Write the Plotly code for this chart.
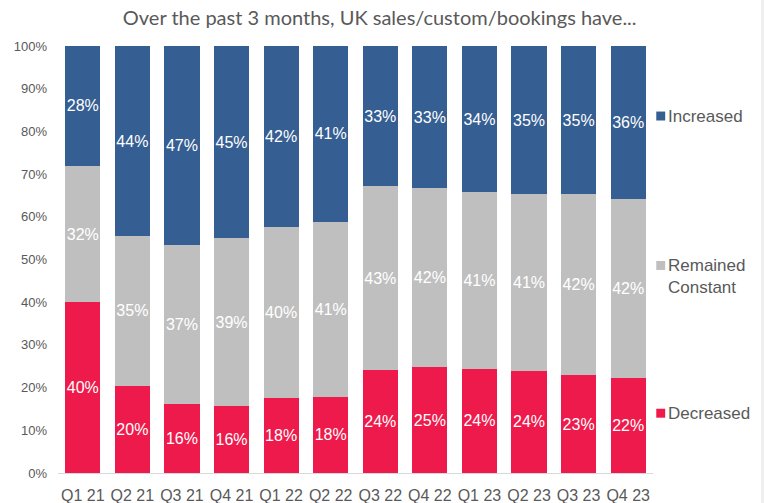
import plotly.graph_objects as go

quarters = ["Q1 21", "Q2 21", "Q3 21", "Q4 21", "Q1 22", "Q2 22",
            "Q3 22", "Q4 22", "Q1 23", "Q2 23", "Q3 23", "Q4 23"]
decreased = [40.0, 20.4, 16.2, 15.7, 17.6, 17.8, 24.1, 24.8, 24.4, 24.0, 22.9, 22.2]
constant = [31.9, 35.1, 37.2, 39.3, 40.0, 41.0, 43.1, 41.9, 41.4, 41.3, 42.4, 42.0]
increased = [28.1, 44.5, 46.6, 45.0, 42.4, 41.2, 32.8, 33.3, 34.2, 34.7, 34.7, 35.8]

series = [
    ("Decreased", decreased, "#EE1A4B"),
    ("Remained Constant", constant, "#BFBFBF"),
    ("Increased", increased, "#355E92"),
]

fig = go.Figure()
for name, vals, col in series:
    fig.add_trace(go.Bar(
        x=quarters, y=vals, name=name, marker=dict(color=col, line=dict(width=0)),
        text=[f"{round(v):d}%" for v in vals], textposition="inside",
        insidetextanchor="middle", textangle=0,
        textfont=dict(color="white", size=16, family="Liberation Sans, Arial"),
        showlegend=False,
    ))

# legend: (label, colour, y of marker/first line, y of text block centre)
legend_items = [("Increased", "#355E92", 83.6, 83.6),
                ("Remained<br>Constant", "#BFBFBF", 48.6, 46.0),
                ("Decreased", "#EE1A4B", 14.0, 14.0)]
for label, col, ym, yt in legend_items:
    fig.add_shape(
        type="rect", xref="paper", yref="y",
        x0=1.0055, x1=1.0205, y0=ym - 1.05, y1=ym + 1.05,
        fillcolor=col, line=dict(width=0),
    )
    fig.add_annotation(
        x=1.022, xref="paper", y=yt, yref="y", xanchor="left", yanchor="middle",
        text=label, showarrow=False, align="left",
        font=dict(size=17, color="#595959", family="Liberation Sans, Arial"),
    )

# faint border strip at the right edge of the image
fig.add_shape(type="rect", xref="paper", yref="paper",
              x0=1.1815, x1=1.19, y0=-0.08, y1=1.12,
              fillcolor="#EFEFEF", line=dict(width=0), layer="below")

fig.update_layout(
    barmode="stack",
    bargap=0.29,
    width=764, height=503,
    margin=dict(l=58, r=111, t=46, b=30),
    paper_bgcolor="white", plot_bgcolor="white",
    title=dict(text="Over the past 3 months, UK sales/custom/bookings have...",
               x=0.497, xanchor="center", y=0.964, yanchor="middle",
               font=dict(size=20, color="#595959", family="Lato, Open Sans, sans-serif")),
    uniformtext=dict(minsize=16, mode="show"),
    xaxis=dict(showline=True, linecolor="#D9D9D9", linewidth=1, ticks="",
               ticklabelstandoff=8, automargin=False,
               tickfont=dict(size=16, color="#595959", family="Liberation Sans, Arial")),
    yaxis=dict(range=[0, 100], tickvals=list(range(0, 101, 10)),
               ticktext=[f"{v}%" for v in range(0, 101, 10)],
               showgrid=False, zeroline=False, showline=False, ticks="",
               ticklabelstandoff=10, automargin=False,
               tickfont=dict(size=13, color="#595959", family="Liberation Sans, Arial")),
)

fig.write_html("out.html")
